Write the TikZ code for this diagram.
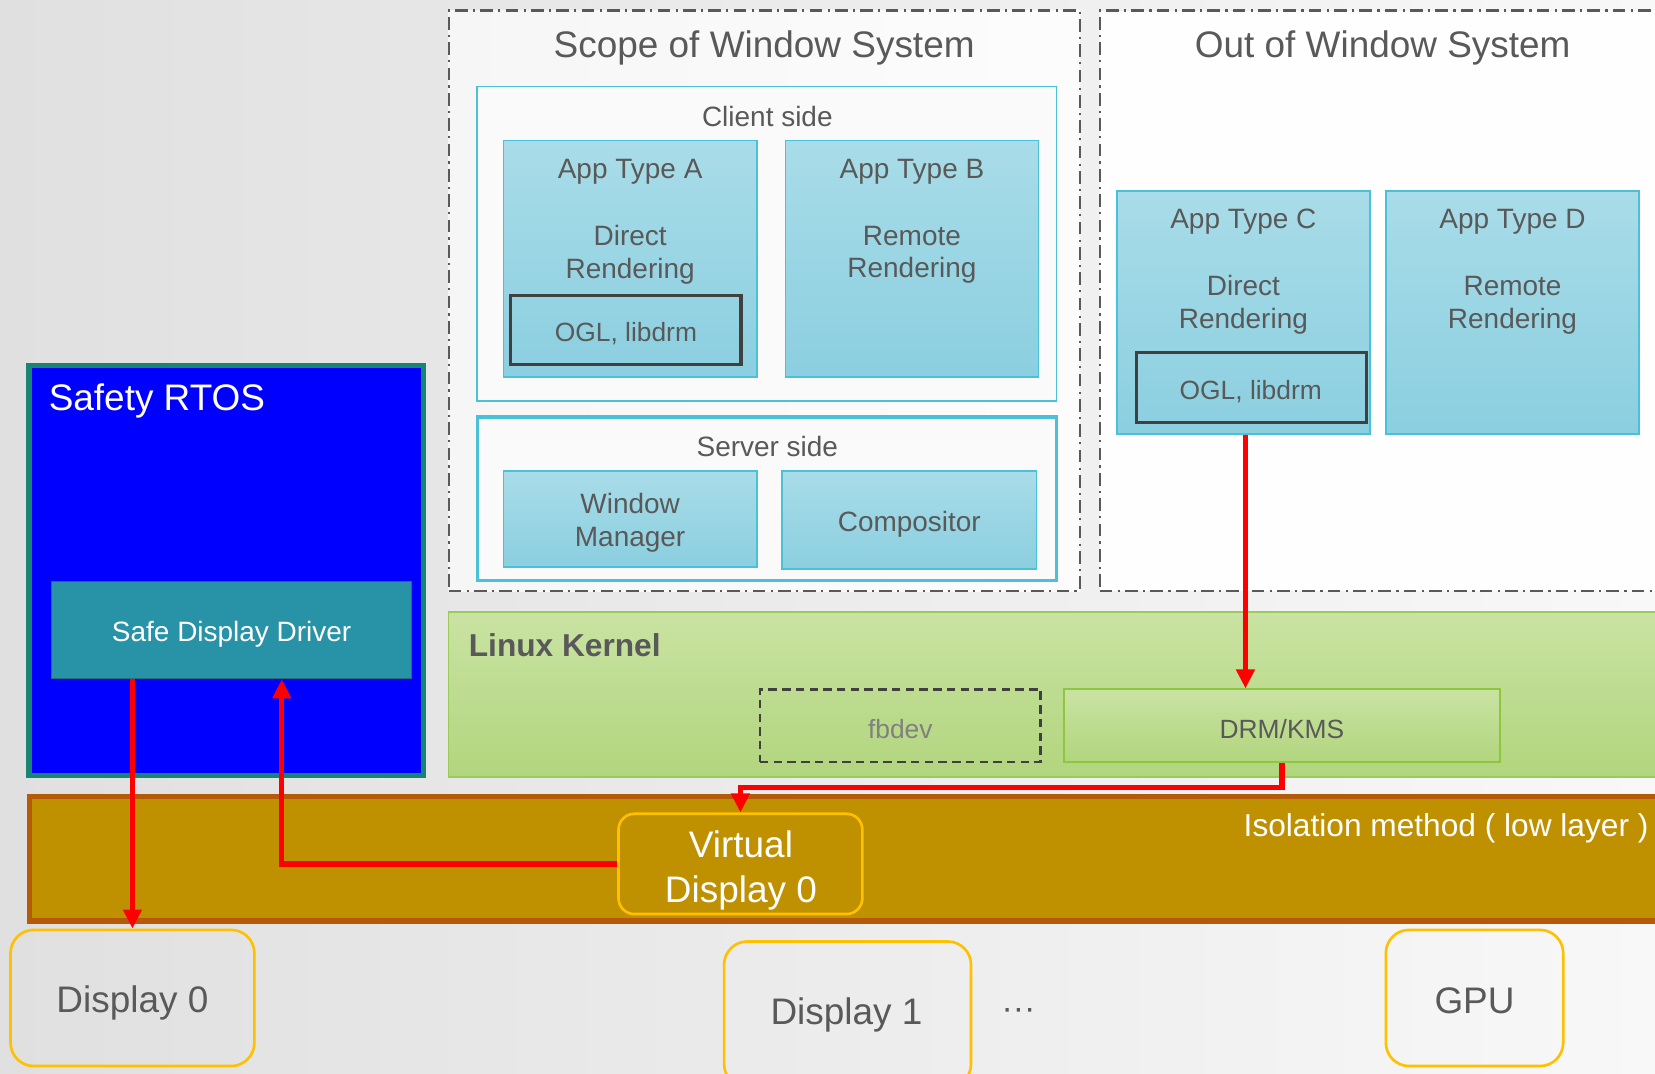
\documentclass[tikz,border=0pt]{standalone}
\usepackage{fontspec}
\setmainfont{Liberation Sans}
\usetikzlibrary{arrows.meta,calc}
\definecolor{txt}{HTML}{595959}
\definecolor{bgL}{HTML}{E0E0E0}
\definecolor{bgR}{HTML}{F8F8F8}
\definecolor{cyanl}{HTML}{4BC0D9}
\definecolor{appT}{HTML}{A9DCE8}
\definecolor{appB}{HTML}{8BCFE0}
\definecolor{oglc}{HTML}{404040}
\definecolor{rtosb}{HTML}{0000FF}
\definecolor{rtosbd}{HTML}{178576}
\definecolor{sddf}{HTML}{2892A6}
\definecolor{sddd}{HTML}{1F6F80}
\definecolor{grT}{HTML}{C9E3A2}
\definecolor{grB}{HTML}{B2D57E}
\definecolor{grD}{HTML}{9BC95B}
\definecolor{drmD}{HTML}{8DC63F}
\definecolor{gold}{HTML}{BF9000}
\definecolor{goldD}{HTML}{B45A08}
\definecolor{yel}{HTML}{FFC000}
\definecolor{redA}{HTML}{FF0000}
\tikzset{
  scopebox/.style={draw=txt, line width=2pt, dash pattern=on 12pt off 5pt on 2pt off 5pt, inner sep=0pt},
  sidebox/.style={draw=cyanl, fill=white!96!gray, inner sep=0pt},
  appbox/.style={draw=cyanl, line width=1.5pt, top color=appT, bottom color=appB, inner sep=0pt},
  oglbox/.style={draw=oglc, line width=3pt, inner sep=0pt, minimum width=218pt, minimum height=65pt},
  dispbox/.style={draw=yel, line width=2.5pt, rounded corners=22pt, inner sep=0pt},
  tx/.style={text=txt, font=\fontsize{26.5}{31}\selectfont, align=center, inner sep=0pt, yshift=-3pt},
  tsm/.style={text=txt, font=\fontsize{25}{30}\selectfont, align=center, inner sep=0pt, yshift=-3pt},
  tbig/.style={text=txt, font=\fontsize{35}{43}\selectfont, align=center, inner sep=0pt, yshift=-4pt},
  redarrow/.style={draw=redA, line width=5pt, -{Triangle[length=18pt,width=17pt]}},
}
\begin{document}
\begin{tikzpicture}[x=1pt,y=-1pt]
\useasboundingbox (0,0) rectangle (1568,1017);
\clip (0,0) rectangle (1568,1017);
\shade[left color=bgL, right color=bgR] (0,0) rectangle (1568,1017);

% window system scopes
\node[scopebox, left color=white!93!gray, right color=white!98!gray, minimum width=598pt, minimum height=550pt] (scope) at (724,285) {};
\node[scopebox, fill=white!99!gray, minimum width=538pt, minimum height=550pt] (outscope) at (1311,285) {};
\node[tbig] (scopeT) at (724,41) {Scope of Window System};
\node[tbig] (outT) at (1310,41) {Out of Window System};

% client side
\node[sidebox, line width=1.5pt, minimum width=549pt, minimum height=298pt] (client) at (726.5,231) {};
\node[tx] (clientT) at (727,107) {Client side};
\node[appbox, minimum width=240pt, minimum height=224pt] (appA) at (597,245) {};
\node[appbox, minimum width=240pt, minimum height=224pt] (appB) at (864,245) {};
\node[tx] (appAT) at (597,160) {App Type A};
\node[tx] (appAR) at (597,238.5) {Direct\\Rendering};
\node[oglbox] (oglA) at (593,312.5) {};
\node[tsm] (oglAT) at (593,313) {OGL, libdrm};
\node[tx] (appBT) at (864,160) {App Type B};
\node[tx] (appBR) at (864,238.5) {Remote\\Rendering};

% server side
\node[sidebox, line width=3pt, minimum width=549pt, minimum height=155pt] (server) at (726.5,472.5) {};
\node[tx] (serverT) at (727,420) {Server side};
\node[appbox, minimum width=240pt, minimum height=91pt] (wm) at (597,491.5) {};
\node[tx] (wmT) at (597,492.5) {Window\\Manager};
\node[appbox, minimum width=241pt, minimum height=93pt] (comp) at (861.5,492.5) {};
\node[tx] (compT) at (861.5,494) {Compositor};

% out of window system apps
\node[appbox, minimum width=240pt, minimum height=230pt] (appC) at (1178,296) {};
\node[appbox, minimum width=240pt, minimum height=230pt] (appD) at (1433,296) {};
\node[tx] (appCT) at (1178,207) {App Type C};
\node[tx] (appCR) at (1178,286) {Direct\\Rendering};
\node[oglbox, minimum height=66pt] (oglC) at (1186,367) {};
\node[tsm] (oglCT) at (1185,368) {OGL, libdrm};
\node[tx] (appDT) at (1433,207) {App Type D};
\node[tx] (appDR) at (1433,286) {Remote\\Rendering};

% safety RTOS
\node[draw=rtosbd, fill=rtosb, line width=5pt, inner sep=0pt, minimum width=374pt, minimum height=388pt] (rtos) at (214.5,540.5) {};
\node[anchor=west, text=white, font=\fontsize{35}{42}\selectfont, inner sep=0pt, yshift=-4pt] (rtosT) at (46,376) {Safety RTOS};
\node[draw=sddd, fill=sddf, line width=1.2pt, inner sep=0pt, minimum width=341pt, minimum height=92pt] (sdd) at (219.5,597) {};
\node[text=white, font=\fontsize{26.5}{31}\selectfont, inner sep=0pt, yshift=-3pt] (sddT) at (219.5,598) {Safe Display Driver};

% linux kernel
\node[draw=grD, line width=1.5pt, top color=grT, bottom color=grB, inner sep=0pt, minimum width=1155pt, minimum height=156pt] (kernel) at (1002.5,658) {};
\node[anchor=west, text=txt, font=\bfseries\fontsize{30}{36}\selectfont, inner sep=0pt, yshift=-3pt] (kernelT) at (444,608) {Linux Kernel};
\node[draw=oglc, line width=2.5pt, dash pattern=on 8pt off 5pt, inner sep=0pt, minimum width=266pt, minimum height=69pt] (fbdev) at (853,687.5) {};
\node[text=gray, font=\fontsize{25}{30}\selectfont, inner sep=0pt, yshift=-3pt] (fbdevT) at (853,688) {fbdev};
\node[draw=drmD, line width=1.5pt, top color=grT, bottom color=grB, inner sep=0pt, minimum width=413pt, minimum height=69pt] (drm) at (1214.5,687.5) {};
\node[tsm] (drmT) at (1214.5,688) {DRM/KMS};

% isolation layer
\node[draw=goldD, fill=gold, line width=5pt, inner sep=0pt, minimum width=1562pt, minimum height=118pt] (iso) at (808.75,813.5) {};
\node[anchor=east, text=white, font=\fontsize{30}{36}\selectfont, inner sep=0pt, yshift=-3pt] (isoT) at (1562,782) {Isolation method ( low layer )};
\node[dispbox, fill=gold, rounded corners=15pt, minimum width=231pt, minimum height=95pt] (vd) at (701.5,818.5) {};
\node[text=white, font=\fontsize{35}{43}\selectfont, align=center, inner sep=0pt, yshift=-4pt] (vdT) at (702,820.5) {Virtual\\Display 0};

% hardware
\node[dispbox, minimum width=231pt, minimum height=129pt] (d0) at (125.5,945.5) {};
\node[tbig] (d0T) at (125.5,946) {Display 0};
\node[dispbox, minimum width=234pt, minimum height=138pt] (d1) at (803,961) {};
\node[tbig] (d1T) at (802,958) {Display 1};
\node[text=txt, font=\fontsize{32}{36}\selectfont, inner sep=0pt] (dots) at (965,961) {···};
\node[dispbox, minimum width=168pt, minimum height=129pt] (gpu) at (1397,945.5) {};
\node[tbig] (gpuT) at (1397,944) {GPU};

% connectors
\draw[redarrow] (appC.south -| oglC.south) ++(-6,0) coordinate (c1) (c1) -- (c1 |- drm.north);
\draw[redarrow] (drm.south) -- (drm.south |- 0,746) -| (vd.north);
\draw[redarrow] (vd.west) -| ([xshift=47.5pt]sdd.south);
\draw[redarrow] (sdd.south -| d0.north) -- (d0.north);
\end{tikzpicture}
\end{document}
